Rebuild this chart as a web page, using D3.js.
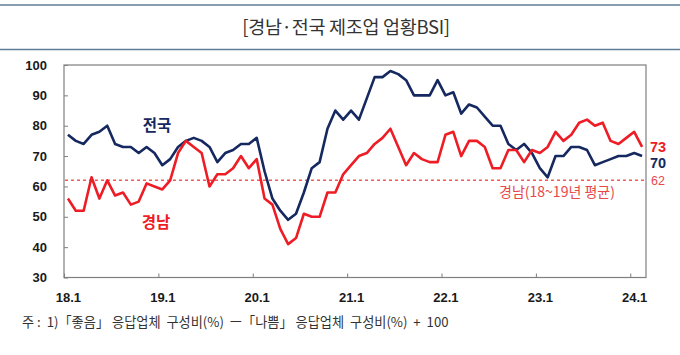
<!DOCTYPE html>
<html><head><meta charset="utf-8">
<script src="https://cdn.jsdelivr.net/npm/d3@7"></script>
<style>
html,body{margin:0;padding:0;background:#fff;}
svg{display:block;}
</style></head>
<body>
<svg id="c" width="680" height="355"></svg>
<script>
// ---- data ----
const startYear = 18;
const monthCount = 74; // 2018.1 ~ 2024.2
const months = d3.range(monthCount).map(i => `${startYear + Math.floor(i / 12)}.${(i % 12) + 1}`);
const nationalBSI = [
  77, 75, 74, 77, 78, 80, 74, 73, 73, 71, 73, 71,
  67, 69, 73, 75, 76, 75, 73, 68, 71, 72, 74, 74,
  76, 65, 56, 52, 49, 51, 58, 66, 68, 79, 85, 82,
  85, 82, 89, 96, 96, 98, 97, 95, 90, 90, 90, 95,
  90, 91, 84, 87, 86, 83, 80, 80, 74, 72, 74, 71,
  66, 63, 70, 70, 73, 73, 72, 67, 68, 69, 70, 70,
  71, 70
];
const gyeongnamBSI = [
  56, 52, 52, 63, 56, 62, 57, 58, 54, 55, 61, 60,
  59, 62, 71, 75, 73, 71, 60, 64, 64, 66, 70, 66,
  69, 56, 54, 46, 41, 43, 51, 50, 50, 58, 58, 64,
  67, 70, 71, 74, 76, 79, 73, 67, 71, 69, 68, 68,
  77, 78, 70, 75, 75, 73, 66, 66, 72, 72, 68, 72,
  71, 73, 78, 75, 77, 81, 82, 80, 81, 75, 74, 76,
  78, 73
];
const gyeongnamAvg = 62;
const xTickLabels = ["18.1", "19.1", "20.1", "21.1", "22.1", "23.1", "24.1"];
const yTickValues = [30, 40, 50, 60, 70, 80, 90, 100];
const titleText = "[경남·전국 제조업 업황BSI]";
const footnoteText = "주 :  1)「좋음」 응답업체  구성비(%)  ㅡ「나쁨」 응답업체  구성비(%)  +  100";

// ---- layout ----
const svg = d3.select("#c");
const L = 64, R = 646, T = 65, B = 277.5;
const navy = "#15285f", red = "#ee1c25";
const kfont = "'Noto Sans CJK KR','Noto Sans',sans-serif";
const nfont = "'Liberation Sans',Arial,sans-serif";

const x = d3.scalePoint().domain(months).range([L, R]).padding(0.5);
const step = x.step();
const y = d3.scaleLinear().domain([30, 100]).range([B, T]);

// title bars
svg.append("line").attr("x1", 0).attr("x2", 680).attr("y1", 5).attr("y2", 5)
  .attr("stroke", "#5f7d96").attr("stroke-width", 1.5);
svg.append("line").attr("x1", 0).attr("x2", 680).attr("y1", 49.5).attr("y2", 49.5)
  .attr("stroke", "#5f7d96").attr("stroke-width", 1.5);
svg.append("text").attr("x", 346).attr("y", 33.5).attr("text-anchor", "middle")
  .attr("font-family", kfont).attr("font-size", 18.5).attr("fill", "#333")
  .attr("letter-spacing", -0.3).text(titleText);

// frame
svg.append("rect").attr("x", L).attr("y", T).attr("width", R - L).attr("height", B - T)
  .attr("fill", "none").attr("stroke", "#7f7f7f").attr("stroke-width", 1.2);

// y axis
const yAxis = d3.axisLeft(y).tickValues(yTickValues).tickSizeInner(-4).tickSizeOuter(0).tickPadding(17);
const gy = svg.append("g").attr("transform", `translate(${L},0)`).call(yAxis);
gy.select(".domain").remove();
gy.selectAll(".tick line").attr("stroke", "#7f7f7f");
gy.selectAll(".tick text").attr("font-family", nfont).attr("font-size", 13)
  .attr("font-weight", "bold").attr("fill", "#1a1a1a");

// x axis: ticks on category boundaries, labels at category centres
const xAxis = d3.axisBottom(x).tickValues(xTickLabels).tickSize(0).tickPadding(15);
const gx = svg.append("g").attr("transform", `translate(0,${B})`).call(xAxis);
gx.select(".domain").remove();
gx.selectAll(".tick text").attr("font-family", nfont).attr("font-size", 13)
  .attr("font-weight", "bold").attr("fill", "#1a1a1a");
gx.selectAll(".tick").append("line")
  .attr("x1", -step / 2).attr("x2", -step / 2).attr("y1", 0).attr("y2", -4)
  .attr("stroke", "#7f7f7f");

// average dashed line
svg.append("line").attr("x1", L + 1).attr("x2", R - 1).attr("y1", y(gyeongnamAvg)).attr("y2", y(gyeongnamAvg))
  .attr("stroke", "#f05a5a").attr("stroke-width", 1.5).attr("stroke-dasharray", "3,3");

// lines
const line = d3.line().x((d, i) => x(months[i])).y(d => y(d));
svg.append("path").datum(nationalBSI).attr("d", line).attr("fill", "none")
  .attr("stroke", navy).attr("stroke-width", 2.6).attr("stroke-linejoin", "round");
svg.append("path").datum(gyeongnamBSI).attr("d", line).attr("fill", "none")
  .attr("stroke", red).attr("stroke-width", 2.6).attr("stroke-linejoin", "round");

// series labels
svg.append("text").attr("x", 157).attr("y", 131).attr("text-anchor", "middle")
  .attr("font-family", kfont).attr("font-size", 15.5).attr("font-weight", "bold")
  .attr("fill", navy).text("전국");
svg.append("text").attr("x", 156).attr("y", 228).attr("text-anchor", "middle")
  .attr("font-family", kfont).attr("font-size", 15.5).attr("font-weight", "bold")
  .attr("fill", red).text("경남");

// end labels
const lastN = nationalBSI[nationalBSI.length - 1];
const lastG = gyeongnamBSI[gyeongnamBSI.length - 1];
svg.append("text").attr("x", 650).attr("y", y(lastG) + 5)
  .attr("font-family", nfont).attr("font-size", 14.5).attr("font-weight", "bold")
  .attr("fill", red).text(lastG);
svg.append("text").attr("x", 650).attr("y", y(lastN) + 12)
  .attr("font-family", nfont).attr("font-size", 14.5).attr("font-weight", "bold")
  .attr("fill", navy).text(lastN);
svg.append("text").attr("x", 651).attr("y", y(gyeongnamAvg) + 4.5)
  .attr("font-family", nfont).attr("font-size", 12.5)
  .attr("fill", "#e8474a").text(gyeongnamAvg);
svg.append("text").attr("x", 557).attr("y", y(gyeongnamAvg) + 17)
  .attr("text-anchor", "middle")
  .attr("font-family", kfont).attr("font-size", 14)
  .attr("fill", "#e8474a").text("경남(18~19년 평균)");

// footnote
svg.append("text").attr("x", 22).attr("y", 326.5)
  .attr("font-family", kfont).attr("font-size", 13.2).attr("fill", "#333")
  .attr("xml:space", "preserve").style("white-space", "pre").text(footnoteText);
</script>
</body></html>
